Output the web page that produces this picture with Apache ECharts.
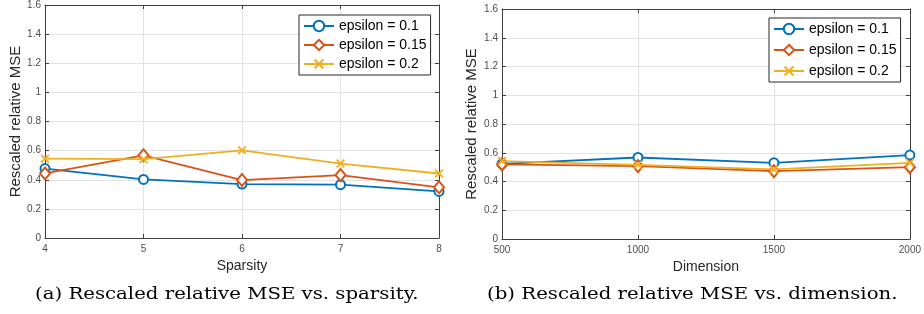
<!DOCTYPE html>
<html>
<head>
<meta charset="utf-8">
<title>Rescaled relative MSE</title>
<script src="https://cdn.jsdelivr.net/npm/echarts@6/dist/echarts.min.js"></script>
<style>
  html, body { margin: 0; padding: 0; background: #fff; }
  #chart { width: 924px; height: 314px; }
</style>
</head>
<body>
<div id="chart"></div>
<script>
// (a) sparsity
const sparsity = [4, 5, 6, 7, 8]
const sparsityEps01 = [0.477, 0.402, 0.370, 0.366, 0.320]
const sparsityEps015 = [0.443, 0.568, 0.398, 0.432, 0.348]
const sparsityEps02 = [0.545, 0.541, 0.602, 0.511, 0.443]

// (b) dimension
const dimension = [500, 1000, 1500, 2000]
const dimensionEps01 = [0.523, 0.567, 0.530, 0.584]
const dimensionEps015 = [0.519, 0.507, 0.472, 0.500]
const dimensionEps02 = [0.542, 0.516, 0.484, 0.530]

const seriesNames = ['epsilon = 0.1', 'epsilon = 0.15', 'epsilon = 0.2']
const captions = ['(a) Rescaled relative MSE vs. sparsity.', '(b) Rescaled relative MSE vs. dimension.']

const axisColor = '#404040'
const labelColor = '#4d4d4d'
const gridColor = '#e3e3e3'
const font = 'Liberation Sans'
const colors = ['#0072BD', '#D95319', '#EDB120']
// hollow circle, hollow diamond, cross
const crossPath = 'path://M0,1.4L1.4,0L5,3.6L8.6,0L10,1.4L6.4,5L10,8.6L8.6,10L5,6.4L1.4,10L0,8.6L3.6,5Z'
const symbols = ['emptyCircle', 'emptyDiamond', crossPath]
const symbolSizes = [9, [10, 12], 9]

function pairs (xs, ys) {
  return xs.map((x, i) => [x, ys[i]])
}

// main x/y axes (bottom, left) and mirrored box axes (top, right)
function xAxes (gridIndex, min, max, interval, name) {
  return [
    {
      type: 'value', gridIndex: gridIndex, min: min, max: max, interval: interval,
      name: name, nameLocation: 'middle', nameGap: 20,
      nameTextStyle: { fontFamily: font, fontSize: 14, color: '#262626' },
      axisLine: { onZero: false, lineStyle: { color: axisColor, width: 1 } },
      axisTick: { inside: true, length: 4, lineStyle: { color: axisColor } },
      axisLabel: { fontFamily: font, fontSize: 10, color: labelColor, margin: 6, formatter: (v) => String(v) },
      splitLine: { show: true, lineStyle: { color: gridColor, width: 1 } }
    },
    {
      type: 'value', gridIndex: gridIndex, position: 'top', min: min, max: max, interval: interval,
      axisLine: { onZero: false, lineStyle: { color: axisColor, width: 1 } },
      axisTick: { inside: true, length: 4, lineStyle: { color: axisColor } },
      axisLabel: { show: false },
      splitLine: { show: false }
    }
  ]
}

function yAxes (gridIndex, nameGap) {
  return [
    {
      type: 'value', gridIndex: gridIndex, min: 0, max: 1.6, interval: 0.2,
      name: 'Rescaled relative MSE', nameLocation: 'middle', nameRotate: 90, nameGap: nameGap,
      nameTextStyle: { fontFamily: font, fontSize: 15, color: '#262626' },
      axisLine: { onZero: false, lineStyle: { color: axisColor, width: 1 } },
      axisTick: { inside: true, length: 4, lineStyle: { color: axisColor } },
      axisLabel: { fontFamily: font, fontSize: 10, color: labelColor, margin: 4 },
      splitLine: { show: true, lineStyle: { color: gridColor, width: 1 } }
    },
    {
      type: 'value', gridIndex: gridIndex, position: 'right', min: 0, max: 1.6, interval: 0.2,
      axisLine: { onZero: false, lineStyle: { color: axisColor, width: 1 } },
      axisTick: { inside: true, length: 4, lineStyle: { color: axisColor } },
      axisLabel: { show: false },
      splitLine: { show: false }
    }
  ]
}

function makeSeries (axisIndex, xs, ysList) {
  return ysList.map((ys, i) => ({
    name: seriesNames[i],
    type: 'line',
    xAxisIndex: axisIndex,
    yAxisIndex: axisIndex,
    data: pairs(xs, ys),
    symbol: symbols[i],
    symbolSize: symbolSizes[i],
    showAllSymbol: true,
    color: colors[i],
    lineStyle: { color: colors[i], width: 1.8 },
    itemStyle: { color: colors[i], borderWidth: 1.6 },
    emphasis: { disabled: true },
    z: 2 + i
  }))
}

function makeLegend (left, top, gap) {
  return {
    orient: 'vertical',
    left: left,
    top: top,
    data: seriesNames,
    itemWidth: 30,
    itemHeight: 13,
    itemGap: gap,
    padding: [4, 4, 4, 4],
    backgroundColor: '#fff',
    borderColor: '#262626',
    borderWidth: 1,
    borderRadius: 0,
    textStyle: { fontFamily: font, fontSize: 14, color: '#000' },
    selectedMode: false
  }
}

let chart = echarts.init(document.getElementById('chart'))

chart.setOption({
  animation: false,
  backgroundColor: '#fff',
  grid: [
    { left: 45, top: 4, width: 394, height: 234 },
    { left: 502, top: 9, width: 412, height: 230 }
  ],
  xAxis: [].concat(
    xAxes(0, 4, 8, 1, 'Sparsity'),
    xAxes(1, 500, 2000, 500, 'Dimension')
  ),
  yAxis: [].concat(yAxes(0, 21), yAxes(1, 23)),
  legend: [makeLegend(299, 15, 5), makeLegend(769, 18, 7)],
  series: [].concat(
    makeSeries(0, sparsity, [sparsityEps01, sparsityEps015, sparsityEps02]),
    makeSeries(2, dimension, [dimensionEps01, dimensionEps015, dimensionEps02])
  ),
  // sub-figure captions (LaTeX style, a bit wider than the serif font)
  graphic: [
    {
      type: 'text', x: 35, y: 286, scaleX: 1.16,
      style: { text: captions[0], fontFamily: 'DejaVu Serif', fontSize: 17, fill: '#000' }
    },
    {
      type: 'text', x: 487, y: 286, scaleX: 1.16,
      style: { text: captions[1], fontFamily: 'DejaVu Serif', fontSize: 17, fill: '#000' }
    }
  ]
})
</script>
</body>
</html>
